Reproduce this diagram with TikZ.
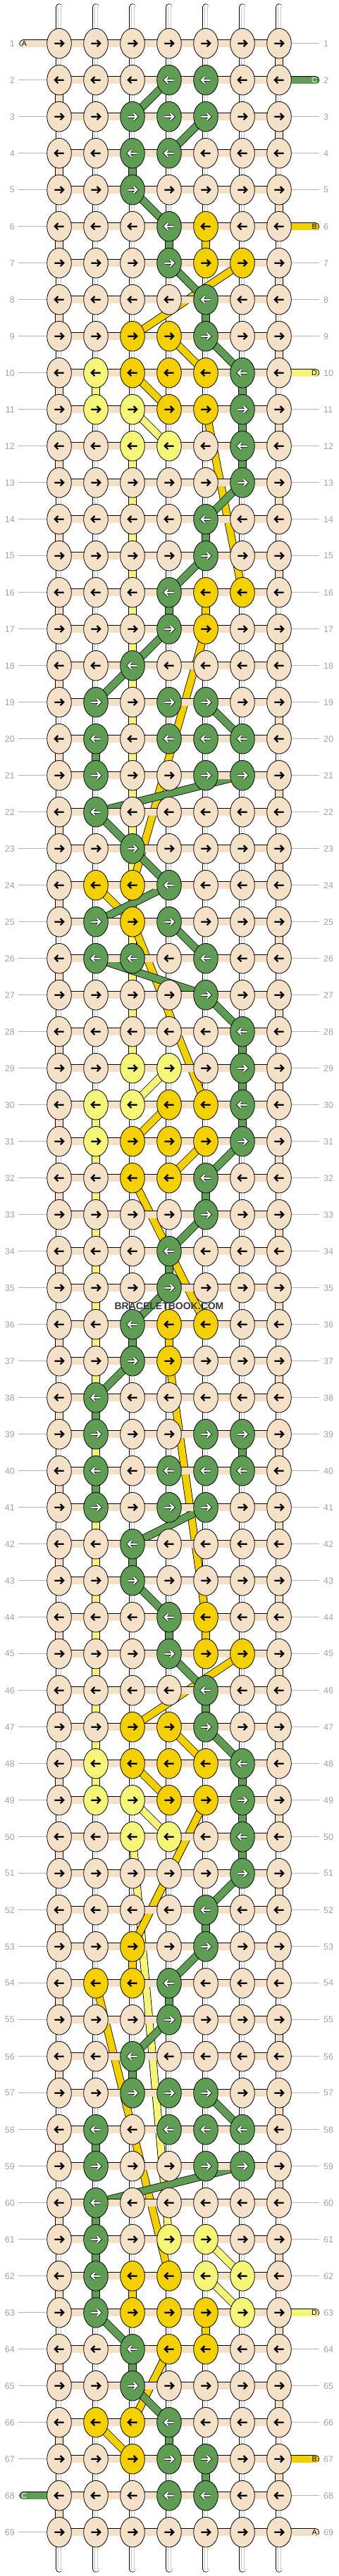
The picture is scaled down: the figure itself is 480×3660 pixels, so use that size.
\documentclass[tikz,border=0pt]{standalone}
\usepackage{fontspec}
\setmainfont{Liberation Sans}
\usetikzlibrary{shapes.geometric}

\definecolor{colP}{HTML}{F5E0C8}
\definecolor{colG}{HTML}{5F9D55}
\definecolor{colY}{HTML}{F4D000}
\definecolor{colL}{HTML}{F5F577}
\colorlet{outP}{colP}\colorlet{outG}{black}\colorlet{outY}{colY}\colorlet{outL}{colL}
\colorlet{innP}{black}\colorlet{innG}{white}\colorlet{innY}{black}\colorlet{innL}{black}
\definecolor{rowgray}{HTML}{A0A0A0}

\tikzset{
  knot/.style={ellipse, draw, line width=.8pt, minimum width=34.6pt, minimum height=42.6pt, inner sep=0pt},
  link/.style={double=#1, double distance=9.6pt, line width=.8pt},
  tailline/.style={link=#1, line cap=round},
  rownum/.style={text=rowgray, font=\fontsize{12.5}{14}\selectfont, inner sep=0pt},
  tailtext/.style={font=\fontsize{10.5}{12}\selectfont, inner sep=0pt}
}

\begin{document}
\begin{tikzpicture}[x=1pt,y=-1pt]
  \useasboundingbox (0,0) rectangle (480,3660);

  % knot centres
  \foreach \r in {1,...,69}
    \foreach \c in {1,...,7}
      \coordinate (p-\r-\c) at (32+52*\c, 9.7+52*\r);

  % row numbers
  \foreach \r in {1,...,69} {
    \node[rownum, anchor=east] (ll-\r) at (21, 9.7+52*\r) {\r};
    \node[rownum, anchor=west] (lr-\r) at (459, 9.7+52*\r) {\r};
    \draw[rowgray!80, line width=.8pt] ([xshift=5pt]ll-\r.east) -- (p-\r-1);
    \draw[rowgray!80, line width=.8pt] (p-\r-7) -- ([xshift=-6pt]lr-\r.west);
  }

  % hanging strings
  \foreach \c in {1,...,7} {
    \draw[double=white, double distance=9pt, line width=.8pt, line cap=round] (32+52*\c, 10.5) -- (32+52*\c, 3649.5);
    \draw[black!22, line width=.6pt] (29.8+52*\c, 9) -- (29.8+52*\c, 3651);
    \draw[black!22, line width=.6pt] (34.2+52*\c, 9) -- (34.2+52*\c, 3651);
  }

  % thread D
  \foreach \a/\b in {10-2/11-2, 11-3/12-4, 12-3/29-3, 29-4/30-3, 30-2/31-2, 31-2/48-2,
                     48-2/49-2, 49-3/50-4, 50-3/61-4, 61-5/62-6, 62-5/63-6}
    \draw[link=colL] (p-\a) -- (p-\b);

  % thread B
  \foreach \a/\b in {6-5/7-5, 7-6/9-3, 9-4/10-5, 10-3/11-4, 11-5/16-6, 16-5/17-5, 17-5/24-3,
                     24-2/25-3, 25-3/30-5, 30-4/31-3, 31-5/32-4, 32-3/36-5, 36-4/37-4, 37-4/44-5,
                     44-5/45-5, 45-6/47-3, 47-4/48-5, 48-3/49-4, 49-5/53-3, 53-3/54-3, 54-2/62-4,
                     62-3/63-3, 63-5/64-5, 64-4/66-3, 66-2/67-3}
    \draw[link=colY] (p-\a) -- (p-\b);

  % thread C
  \foreach \a/\b in {2-4/3-3, 3-5/4-4, 4-3/5-3, 5-3/6-4, 6-4/7-4, 7-4/8-5, 8-5/9-5, 9-5/10-6,
                     10-6/11-6, 11-6/12-6, 12-6/13-6, 13-6/14-5, 14-5/15-5, 15-5/16-4, 16-4/17-4,
                     17-4/18-3, 18-3/19-2, 19-5/20-6, 20-2/21-2, 21-6/22-2, 22-2/23-3, 23-3/24-4,
                     24-4/25-2, 25-4/26-5, 26-2/27-5, 27-5/28-6, 28-6/29-6, 29-6/30-6, 30-6/31-6,
                     31-6/32-5, 32-5/33-5, 33-5/34-4, 34-4/35-4, 35-4/36-3, 36-3/37-3, 37-3/38-2,
                     38-2/39-2, 39-6/40-6, 40-2/41-2, 41-5/42-3, 42-3/43-3, 43-3/44-4, 44-4/45-4,
                     45-4/46-5, 46-5/47-5, 47-5/48-6, 48-6/49-6, 49-6/50-6, 50-6/51-6, 51-6/52-5,
                     52-5/53-5, 53-5/54-4, 54-4/55-4, 55-4/56-3, 56-3/57-3, 57-5/58-6, 58-2/59-2,
                     59-6/60-2, 60-2/61-2, 61-2/62-2, 62-2/63-2, 63-2/64-3, 64-3/65-3, 65-3/66-4,
                     66-4/67-4, 67-5/68-5}
    \draw[link=colG] (p-\a) -- (p-\b);

  % thread A, row by row
  \foreach \r in {1,...,69}
    \draw[link=colP] (p-\r-1) -- (p-\r-7);
  \foreach \r in {1,...,68} {
    \pgfmathtruncatemacro\rn{\r+1}
    \pgfmathtruncatemacro\ec{mod(\r,2)==1 ? 7 : 1}
    \draw[link=colP] (p-\r-\ec) -- (p-\rn-\ec);
  }

  % loose ends
  \path (p-1-1) ++(-51,0) coordinate (eA1);
  \path (p-68-1) ++(-51,0) coordinate (eC68);
  \path (p-2-7) ++(51.5,0) coordinate (eC2);
  \path (p-6-7) ++(51.5,0) coordinate (eB6);
  \path (p-10-7) ++(51.5,0) coordinate (eD10);
  \path (p-63-7) ++(51.5,0) coordinate (eD63);
  \path (p-67-7) ++(51.5,0) coordinate (eB67);
  \path (p-69-7) ++(51.5,0) coordinate (eA69);
  \draw[tailline=colP] (eA1) -- (p-1-1);
  \draw[tailline=colG] (eC68) -- (p-68-1);
  \draw[tailline=colG] (p-2-7) -- (eC2);
  \draw[tailline=colY] (p-6-7) -- (eB6);
  \draw[tailline=colL] (p-10-7) -- (eD10);
  \draw[tailline=colL] (p-63-7) -- (eD63);
  \draw[tailline=colY] (p-67-7) -- (eB67);
  \draw[tailline=colP] (p-69-7) -- (eA69);
  \node[tailtext] (tA1) at ([xshift=1.5pt]eA1) {A};
  \node[tailtext, text=white] (tC68) at ([xshift=1.5pt]eC68) {C};
  \node[tailtext, text=white] (tC2) at ([xshift=-1.5pt]eC2) {C};
  \node[tailtext] (tB6) at ([xshift=-1.5pt]eB6) {B};
  \node[tailtext] (tD10) at ([xshift=-1.5pt]eD10) {D};
  \node[tailtext] (tD63) at ([xshift=-1.5pt]eD63) {D};
  \node[tailtext] (tB67) at ([xshift=-1.5pt]eB67) {B};
  \node[tailtext] (tA69) at ([xshift=-1.5pt]eA69) {A};

  % knots
  \foreach \r/\ks in {
     1/{P,P,P,P,P,P,P},  2/{P,P,P,G,G,P,P},  3/{P,P,G,G,G,P,P},  4/{P,P,G,G,P,P,P},
     5/{P,P,G,P,P,P,P},  6/{P,P,P,G,Y,P,P},  7/{P,P,P,G,Y,Y,P},  8/{P,P,P,P,G,P,P},
     9/{P,P,Y,Y,G,P,P}, 10/{P,L,Y,Y,Y,G,P}, 11/{P,L,L,Y,Y,G,P}, 12/{P,P,L,L,P,G,P},
    13/{P,P,P,P,P,G,P}, 14/{P,P,P,P,G,P,P}, 15/{P,P,P,P,G,P,P}, 16/{P,P,P,G,Y,Y,P},
    17/{P,P,P,G,Y,P,P}, 18/{P,P,G,P,P,P,P}, 19/{P,G,P,G,G,P,P}, 20/{P,G,P,G,G,G,P},
    21/{P,G,P,P,G,G,P}, 22/{P,G,P,P,P,P,P}, 23/{P,P,G,P,P,P,P}, 24/{P,Y,Y,G,P,P,P},
    25/{P,G,Y,G,P,P,P}, 26/{P,G,G,P,G,P,P}, 27/{P,P,P,P,G,P,P}, 28/{P,P,P,P,P,G,P},
    29/{P,P,L,L,P,G,P}, 30/{P,L,L,Y,Y,G,P}, 31/{P,L,Y,Y,Y,G,P}, 32/{P,P,Y,Y,G,P,P},
    33/{P,P,P,P,G,P,P}, 34/{P,P,P,G,P,P,P}, 35/{P,P,P,G,P,P,P}, 36/{P,P,G,Y,Y,P,P},
    37/{P,P,G,Y,P,P,P}, 38/{P,G,P,P,P,P,P}, 39/{P,G,P,P,G,G,P}, 40/{P,G,P,G,G,G,P},
    41/{P,G,P,G,G,P,P}, 42/{P,P,G,P,P,P,P}, 43/{P,P,G,P,P,P,P}, 44/{P,P,P,G,Y,P,P},
    45/{P,P,P,G,Y,Y,P}, 46/{P,P,P,P,G,P,P}, 47/{P,P,Y,Y,G,P,P}, 48/{P,L,Y,Y,Y,G,P},
    49/{P,L,L,Y,Y,G,P}, 50/{P,P,L,L,P,G,P}, 51/{P,P,P,P,P,G,P}, 52/{P,P,P,P,G,P,P},
    53/{P,P,Y,P,G,P,P}, 54/{P,Y,Y,G,P,P,P}, 55/{P,P,P,G,P,P,P}, 56/{P,P,G,P,P,P,P},
    57/{P,P,G,G,G,P,P}, 58/{P,G,P,G,G,G,P}, 59/{P,G,P,P,G,G,P}, 60/{P,G,P,P,P,P,P},
    61/{P,G,P,L,L,P,P}, 62/{P,G,Y,Y,L,L,P}, 63/{P,G,Y,Y,Y,L,P}, 64/{P,P,G,Y,Y,P,P},
    65/{P,P,G,P,P,P,P}, 66/{P,Y,Y,G,P,P,P}, 67/{P,P,Y,G,G,P,P}, 68/{P,P,P,G,G,P,P},
    69/{P,P,P,P,P,P,P}} {
    \pgfmathtruncatemacro\dir{1-2*mod(\r+1,2)}
    \foreach \k [count=\c] in \ks {
      \node[knot, fill=col\k] (n-\r-\c) at (p-\r-\c) {};
      \begin{scope}[shift={(p-\r-\c)}, xscale=\dir]
        \draw[draw=out\k, line width=3.8pt] (-6.6,0) -- (5.5,0) (1.6,-4.6) -- (6.2,0) -- (1.6,4.6);
        \draw[draw=inn\k, line width=2.2pt] (-6.6,0) -- (5.5,0) (1.6,-4.6) -- (6.2,0) -- (1.6,4.6);
      \end{scope}
    }
  }

  \node[font=\bfseries\fontsize{14}{16}\selectfont, text=black!78, inner sep=0pt] (wm) at (240,1856) {BRACELETBOOK.COM};
\end{tikzpicture}
\end{document}
